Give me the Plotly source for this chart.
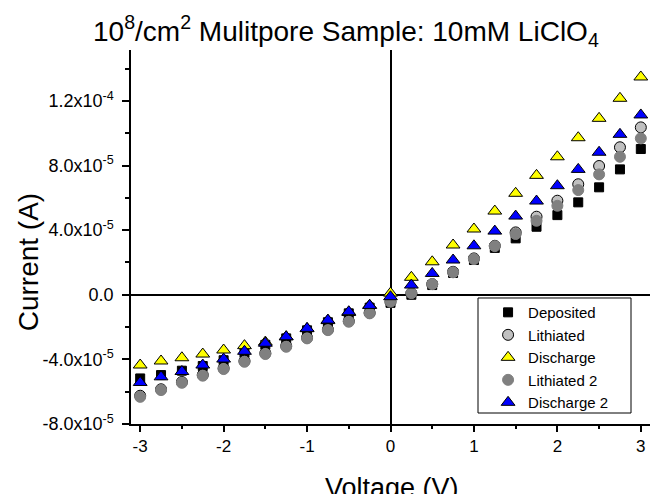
import plotly.graph_objects as go

voltage = [-3.0, -2.75, -2.5, -2.25, -2.0, -1.75, -1.5, -1.25, -1.0, -0.75, -0.5, -0.25,
           0.0, 0.25, 0.5, 0.75, 1.0, 1.25, 1.5, 1.75, 2.0, 2.25, 2.5, 2.75, 3.0]

deposited = [-5.18e-5, -4.97e-5, -4.70e-5, -4.41e-5, -4.05e-5, -3.60e-5, -3.10e-5, -2.70e-5,
             -2.20e-5, -1.70e-5, -1.15e-5, -8.0e-6,
             -5.0e-6, 0.0, 6.0e-6, 1.35e-5, 2.15e-5, 2.90e-5, 3.49e-5, 4.21e-5, 4.93e-5,
             5.72e-5, 6.65e-5, 7.76e-5, 9.02e-5]
lithiated = [-6.25e-5, -5.85e-5, -5.40e-5, -4.96e-5, -4.55e-5, -4.10e-5, -3.62e-5, -3.17e-5,
             -2.66e-5, -2.15e-5, -1.63e-5, -1.12e-5,
             -4.3e-6, 9.0e-7, 6.6e-6, 1.42e-5, 2.25e-5, 3.03e-5, 3.86e-5, 4.83e-5, 5.82e-5,
             6.84e-5, 7.97e-5, 9.13e-5, 1.036e-4]
discharge = [-4.35e-5, -4.10e-5, -3.90e-5, -3.67e-5, -3.42e-5, -3.15e-5, -2.93e-5, -2.60e-5,
             -2.10e-5, -1.60e-5, -1.10e-5, -6.5e-6,
             1.0e-6, 1.08e-5, 2.04e-5, 3.08e-5, 4.07e-5, 5.18e-5, 6.28e-5, 7.39e-5, 8.54e-5,
             9.72e-5, 1.092e-4, 1.216e-4, 1.348e-4]
lithiated2 = [-6.32e-5, -5.90e-5, -5.45e-5, -5.01e-5, -4.60e-5, -4.15e-5, -3.67e-5, -3.22e-5,
              -2.70e-5, -2.19e-5, -1.67e-5, -1.15e-5,
              -4.3e-6, 1.0e-6, 6.6e-6, 1.39e-5, 2.21e-5, 3.01e-5, 3.76e-5, 4.58e-5, 5.51e-5,
              6.48e-5, 7.45e-5, 8.54e-5, 9.68e-5]
discharge2 = [-5.43e-5, -5.08e-5, -4.75e-5, -4.35e-5, -3.98e-5, -3.50e-5, -3.00e-5, -2.60e-5,
              -2.08e-5, -1.57e-5, -1.05e-5, -6.6e-6,
              -1.2e-6, 6.0e-6, 1.32e-5, 2.15e-5, 3.03e-5, 3.94e-5, 4.87e-5, 5.80e-5, 6.75e-5,
              7.76e-5, 8.82e-5, 9.93e-5, 1.113e-4]

series_names = ["Deposited", "Lithiated", "Discharge", "Lithiated 2", "Discharge 2"]

x_tickvals = [-3, -2, -1, 0, 1, 2, 3]
x_ticktext = ["-3", "-2", "-1", "0", "1", "2", "3"]
y_tickvals = [-8e-5, -4e-5, 0, 4e-5, 8e-5, 1.2e-4]
y_ticktext = ["-8.0x10<sup>-5</sup>", "-4.0x10<sup>-5</sup>", "0.0",
              "4.0x10<sup>-5</sup>", "8.0x10<sup>-5</sup>", "1.2x10<sup>-4</sup>"]

styles = [
    dict(symbol="square", size=9, color="#000000", line=dict(color="#000000", width=1)),
    dict(symbol="circle", size=11, color="#c0c0c0", line=dict(color="#000000", width=1)),
    dict(symbol="triangle-up", size=12, color="#ffff00", line=dict(color="#000000", width=1)),
    dict(symbol="circle", size=11, color="#808080", line=dict(color="#808080", width=1)),
    dict(symbol="triangle-up", size=12, color="#0000ff", line=dict(color="#000000", width=1)),
]

fig = go.Figure()
for name, ys, st in zip(series_names, [deposited, lithiated, discharge, lithiated2, discharge2], styles):
    fig.add_trace(go.Scatter(x=voltage, y=ys, mode="markers", name=name, marker=st))

font = "Liberation Sans, Arial, sans-serif"

fig.update_layout(
    width=650, height=494,
    margin=dict(l=131, r=0, t=50, b=70),
    paper_bgcolor="white", plot_bgcolor="white",
    font=dict(family=font, color="black"),
    showlegend=True,
    legend=dict(x=0.688, xanchor="left", y=0.342, yanchor="top",
                borderwidth=0, bgcolor="rgba(0,0,0,0)",
                font=dict(size=15, family=font), tracegroupgap=0),
    shapes=[
        dict(type="rect", xref="paper", yref="paper",
             x0=0.6686, x1=0.9634, y0=0.0294, y1=0.3369,
             line=dict(color="black", width=1), fillcolor="white", layer="above"),
    ],
    annotations=[
        dict(text="10<sup>8</sup>/cm<sup>2</sup> Mulitpore Sample: 10mM LiClO<sub>4</sub>",
             xref="paper", yref="paper", x=0.414, y=1.05, xanchor="center", yanchor="middle",
             showarrow=False, font=dict(size=28, family=font)),
        dict(text="Current (A)", textangle=-90, xref="paper", yref="paper",
             x=-0.198, y=0.433, xanchor="center", yanchor="middle",
             showarrow=False, font=dict(size=28, family=font)),
        dict(text="Voltage (V)", xref="paper", yref="paper",
             x=0.502, y=-0.125, xanchor="center", yanchor="top",
             showarrow=False, font=dict(size=27, family=font)),
    ],
)

fig.update_xaxes(
    range=[-3.11, 3.11], showgrid=False,
    showline=True, linecolor="black", linewidth=1.5,
    zeroline=True, zerolinecolor="black", zerolinewidth=1.5,
    tickmode="array", tickvals=x_tickvals, ticktext=x_ticktext,
    ticks="outside", ticklen=6, tickwidth=1.5, tickcolor="black",
    tickfont=dict(size=17, family=font),
    minor=dict(ticks="outside", ticklen=3, tickwidth=1.5, tickcolor="black", tick0=0, dtick=0.5),
)
fig.update_yaxes(
    range=[-8e-5, 1.515e-4], showgrid=False,
    showline=True, linecolor="black", linewidth=1.5,
    zeroline=True, zerolinecolor="black", zerolinewidth=1.5,
    tickmode="array", tickvals=y_tickvals, ticktext=y_ticktext,
    ticks="outside", ticklen=7, tickwidth=1.5, tickcolor="black",
    tickfont=dict(size=18, family=font), ticklabelstandoff=5,
    minor=dict(ticks="outside", ticklen=4, tickwidth=1.5, tickcolor="black", tick0=0, dtick=2e-5),
)

fig.write_html("out.html", config={"displayModeBar": False},
               post_script="document.body.style.margin='0';document.body.style.overflow='hidden';")
